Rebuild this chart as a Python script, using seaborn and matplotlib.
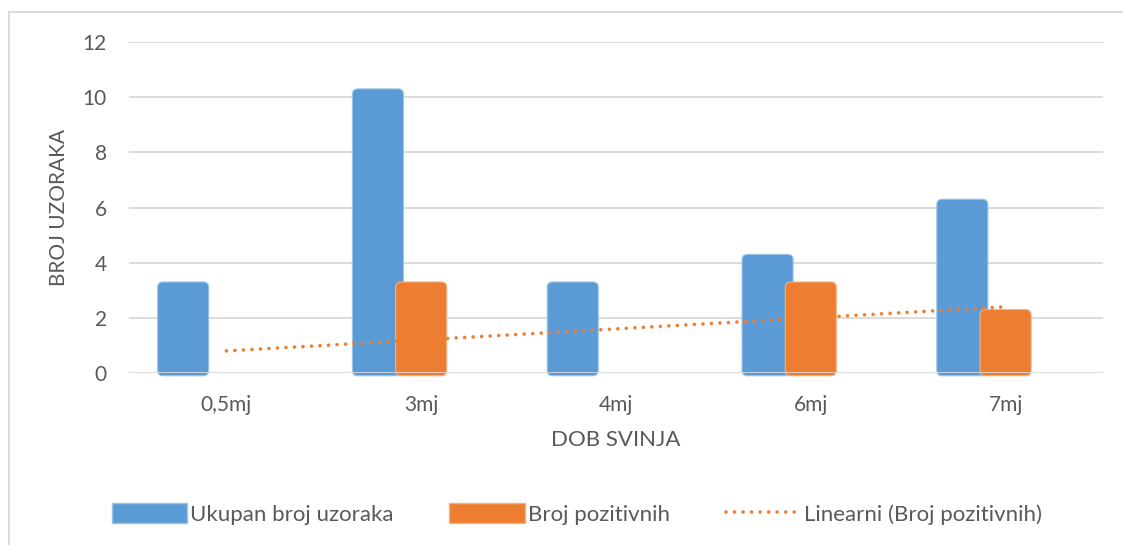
import numpy as np
import pandas as pd
import matplotlib
matplotlib.use("Agg")
import matplotlib.pyplot as plt
from matplotlib.patches import FancyBboxPatch, Patch
from matplotlib.lines import Line2D
import seaborn as sns

# ---- data ----
categories = ["0,5mj", "3mj", "4mj", "6mj", "7mj"]
ukupan = [3, 10, 3, 4, 6]
pozitivni = [0, 3, 0, 3, 2]
series_names = ["Ukupan broj uzoraka", "Broj pozitivnih"]
trend_name = "Linearni (Broj pozitivnih)"
yticks = [0, 2, 4, 6, 8, 10, 12]

# ---- style ----
BLUE = "#5B9BD5"
ORANGE = "#ED7D31"
GRID = "#D9D9D9"
TXT = "#595959"
BAR_W = 0.262
OFFSETS = [-0.222, 0.0]
TOP_OVER = 0.3
BOT_OVER = 0.1

sns.set_theme(style="white")
plt.rcParams["font.family"] = ["Lato", "DejaVu Sans"]

df = pd.DataFrame({
    "dob": categories * 2,
    "n": ukupan + pozitivni,
    "serija": [series_names[0]] * len(categories) + [series_names[1]] * len(categories),
})

fig = plt.figure(figsize=(11.23, 5.45), dpi=100)
ax = fig.add_axes([129 / 1123, 172 / 545, (1103 - 129) / 1123, (373 - 42) / 545])

sns.barplot(data=df, x="dob", y="n", hue="serija", palette=[BLUE, ORANGE],
            order=categories, hue_order=series_names, dodge=True, width=0.5,
            legend=False, ax=ax, saturation=1)

ax.set_ylim(0, 12)
ax.set_xlim(-0.5, len(categories) - 0.5)

# replace bars with rounded ones (position from seaborn patches)
bars = list(ax.patches)
n = len(categories)
for i, p in enumerate(bars):
    hue_i = i // n
    cx = p.get_x() + p.get_width() / 2
    cat = round(cx)
    h = p.get_height()
    p.remove()
    if h <= 0:
        continue
    color = BLUE if hue_i == 0 else ORANGE
    edge = "#9DC3E6" if hue_i == 0 else "#F4B183"
    x0 = cat + OFFSETS[hue_i] - BAR_W / 2
    fb = FancyBboxPatch((x0, -BOT_OVER), BAR_W, h + TOP_OVER + BOT_OVER,
                        boxstyle="round,pad=0,rounding_size=0.028",
                        mutation_aspect=195 / 27.6,
                        facecolor=color, edgecolor=edge, linewidth=0.8,
                        zorder=2 + hue_i, clip_on=False)
    ax.add_patch(fb)

# linear trendline of positives
xs = np.arange(len(categories))
coef = np.polyfit(xs, pozitivni, 1)
trend = np.polyval(coef, xs)
sns.lineplot(x=xs, y=trend, ax=ax, color=ORANGE, linewidth=2.6,
             dashes=False, zorder=5)
ln = ax.lines[-1]
ln.set_linestyle((0, (0.01, 2.35)))
ln.set_dash_capstyle("round")

# grid
for yv in yticks:
    ax.axhline(yv, color=GRID, linewidth=1.3, zorder=1 if yv else 6)

for s in ax.spines.values():
    s.set_visible(False)
ax.set_yticks(yticks)
ax.set_yticklabels([str(v) for v in yticks])
ax.tick_params(axis="y", length=0, pad=16, labelsize=15, labelcolor=TXT)
ax.tick_params(axis="x", length=0, pad=16, labelsize=15, labelcolor=TXT)
ax.grid(False)

ax.set_xlabel("DOB SVINJA", fontsize=16, color=TXT, labelpad=11)
ax.set_ylabel("BROJ UZORAKA", fontsize=15, color=TXT)
ax.yaxis.set_label_coords((69 - 129) / 974, 0.5)

# legend
handles = [
    Patch(facecolor=BLUE, edgecolor="#9DC3E6", label=series_names[0]),
    Patch(facecolor=ORANGE, edgecolor="#F4B183", label=series_names[1]),
    Line2D([0], [0], color=ORANGE, linewidth=2.6, linestyle=(0, (0.01, 2.35)),
           dash_capstyle="round", label=trend_name),
]
leg = fig.legend(handles=handles, loc="center", ncol=3,
                 bbox_to_anchor=(577 / 1123, 1 - 514 / 545), frameon=False,
                 fontsize=16, handlelength=3.4, handleheight=1.0,
                 handletextpad=0.14, columnspacing=2.5, labelcolor=TXT)

# figure border (top and left visible)
fig.add_artist(Line2D([9 / 1123, 1.0], [1 - 12 / 545, 1 - 12 / 545],
                      transform=fig.transFigure, color=GRID, linewidth=1.3))
fig.add_artist(Line2D([9 / 1123, 9 / 1123], [0, 1 - 12 / 545],
                      transform=fig.transFigure, color=GRID, linewidth=1.3))

fig.savefig("out.png", dpi=100, facecolor="white")
